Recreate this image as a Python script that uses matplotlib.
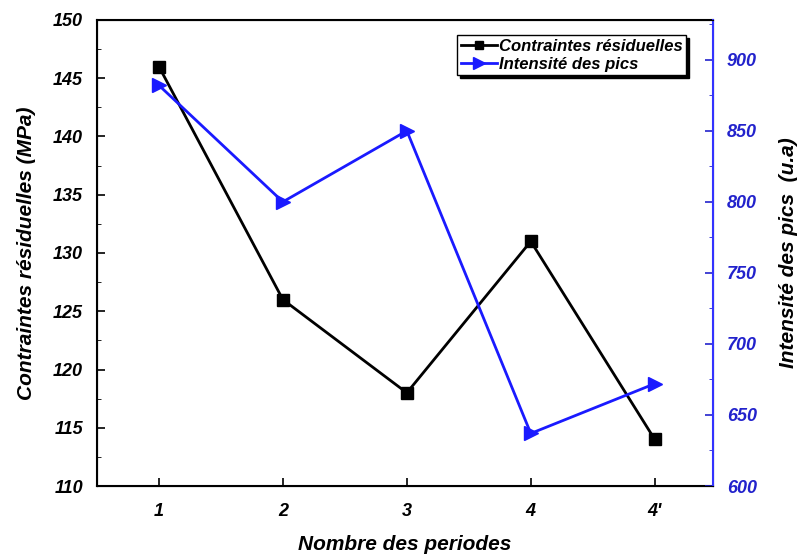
import matplotlib
matplotlib.use("Agg")
import matplotlib.pyplot as plt
from matplotlib.ticker import MultipleLocator

categories = ["1", "2", "3", "4", "4'"]
contraintes = [146, 126, 118, 131, 114]
intensite = [882, 800, 850, 637, 672]

plt.rcParams['font.family'] = ['Liberation Sans', 'DejaVu Sans']

fig = plt.figure(figsize=(8.06, 5.55), dpi=100)
ax = fig.add_axes([0.1203, 0.1243, 0.7643, 0.8397])
x = list(range(1, len(categories) + 1))

l1, = ax.plot(x, contraintes, color='black', lw=2, marker='s', ms=8,
              label='Contraintes résiduelles')
ax.set_xlim(0.5, 5.47)
ax.set_ylim(110, 150)
ax.yaxis.set_major_locator(MultipleLocator(5))
ax.yaxis.set_minor_locator(MultipleLocator(2.5))
ax.set_xticks(x)
ax.set_xticklabels(categories)
ax.tick_params(axis='both', which='both', direction='in', labelsize=13)
ax.tick_params(axis='both', which='major', length=6, width=1.2)
ax.tick_params(axis='x', which='major', pad=12)
ax.tick_params(axis='y', which='major', pad=10)
ax.tick_params(axis='y', which='minor', length=3)
for lab in ax.get_xticklabels() + ax.get_yticklabels():
    lab.set_fontweight('bold')
    lab.set_fontstyle('italic')
ax.set_ylabel('Contraintes résiduelles (MPa)', fontsize=15, fontweight='bold',
              fontstyle='italic', labelpad=12)
ax.set_xlabel('Nombre des periodes', fontsize=15, fontweight='bold',
              fontstyle='italic', labelpad=11)

ax2 = ax.twinx()
l2, = ax2.plot(x, intensite, color='#1a1aff', lw=2, marker='>', ms=10,
               label='Intensité des pics')
ax2.set_ylim(600, 928)
ax2.yaxis.set_major_locator(MultipleLocator(50))
ax2.yaxis.set_minor_locator(MultipleLocator(25))
ax2.tick_params(axis='y', which='both', direction='in', colors='#2222cc', labelsize=13)
ax2.tick_params(axis='y', which='major', length=6, width=1.2, pad=10)
ax2.tick_params(axis='y', which='minor', length=3)
for lab in ax2.get_yticklabels():
    lab.set_fontweight('bold')
    lab.set_fontstyle('italic')
ax2.spines['right'].set_color('#3333ff')
ax2.spines['right'].set_linewidth(1.5)
ax2.set_ylabel('Intensité des pics  (u.a)', fontsize=15, fontweight='bold',
               fontstyle='italic', labelpad=16)
for s in ['left', 'bottom', 'top']:
    ax.spines[s].set_linewidth(1.5)

leg = ax2.legend(handles=[l1, l2], loc='upper right', bbox_to_anchor=(0.97, 0.985),
                 fancybox=False, shadow={'color': 'black', 'alpha': 1},
                 framealpha=1, edgecolor='black',
                 prop={'size': 12, 'style': 'italic', 'weight': 'bold'},
                 handlelength=2.2, borderpad=0.2, labelspacing=0.2,
                 handletextpad=0.1, markerscale=0.8)

fig.savefig('out.png', dpi=100)
